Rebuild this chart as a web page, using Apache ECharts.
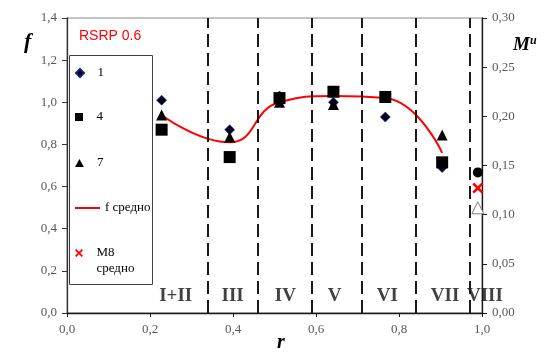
<!DOCTYPE html>
<html>
<head>
<meta charset="utf-8">
<script src="https://cdn.jsdelivr.net/npm/echarts@6/dist/echarts.min.js"></script>
<style>
  html, body { margin: 0; padding: 0; background: #ffffff; }
  #chart { width: 547px; height: 352px; }
</style>
</head>
<body>
<div id="chart"></div>
<script>
// Radial positions of the measuring points
const rPositions = [0.228, 0.392, 0.512, 0.642, 0.767, 0.904];
// f values for series 1, 4 and 7
const series1 = [1.01, 0.87, 1.03, 1.00, 0.93, 0.69];
const series4 = [0.87, 0.74, 1.02, 1.05, 1.025, 0.715];
const series7 = [0.94, 0.835, 1.00, 0.99, 1.03, 0.845];
// averaged f curve
const fMean = [0.94, 0.81, 1.00, 1.03, 1.02, 0.76];
// zone borders (dashed verticals) and zone captions
const zoneBounds = [0.337, 0.462, 0.591, 0.709, 0.844, 0.966];
const zoneNames = ['I+II', 'III', 'IV', 'V', 'VI', 'VII', 'VIII'];
const zoneLabelR = [0.262, 0.399, 0.526, 0.645, 0.772, 0.911, 1.007];
const zoneLabelF = 0.08;
// values on the right-hand M^u axis
const mR = 0.99;
const mCircle = [0.143];
const m8Mean = [0.127];
const mTriangle = [0.107];
// axis ranges
const fAxis = { min: 0, max: 1.4, step: 0.2 };
const mAxis = { min: 0, max: 0.30, step: 0.05 };
const rAxis = { min: 0, max: 1.0, step: 0.2 };

const SERIF = '"Liberation Serif", "DejaVu Serif", serif';
const comma = (v, d) => v.toFixed(d).replace('.', ',');

const ICON_DIAMOND = 'path://M5,0L10,5L5,10L0,5Z';
const ICON_SQUARE = 'path://M0,0H10V10H0Z';
const ICON_TRIANGLE = 'path://M5,0L10,9L0,9Z';
const ICON_LINE = 'path://M0,0H25V2H0Z';
const ICON_CROSS = 'path://M0,1.6L1.6,0L5,3.4L8.4,0L10,1.6L6.6,5L10,8.4L8.4,10L5,6.6L1.6,10L0,8.4L3.4,5Z';

const pairs = (xs, ys) => xs.map((x, i) => [x, ys[i]]);

const legendItems = [
  { name: '1', icon: ICON_DIAMOND, y: 73 },
  { name: '4', icon: ICON_SQUARE, y: 117 },
  { name: '7', icon: ICON_TRIANGLE, y: 163 },
  { name: 'f средно', icon: ICON_LINE, y: 208 },
  { name: 'M8 средно', icon: ICON_CROSS, y: 253 }
];

// one small legend per entry so each row sits at its own height
const legends = legendItems.map(item => {
  const twoLines = item.name === 'M8 средно';
  return {
    data: [item.name],
    icon: item.icon,
    left: 75,
    top: twoLines ? item.y - 24 : item.y - 8,
    orient: 'vertical',
    padding: 0,
    itemWidth: 25,
    itemHeight: 8,
    z: 5,
    selectedMode: false,
    formatter: n => (twoLines ? '\n' + n.replace(' ', '\n') : n),
    textStyle: { fontFamily: SERIF, fontSize: 13, color: '#000', lineHeight: 16 }
  };
});

const scatterBase = { type: 'scatter', emphasis: { disabled: true } };

const chart = echarts.init(document.getElementById('chart'), null, { renderer: 'canvas' });

chart.setOption({
  animation: false,
  backgroundColor: '#ffffff',
  grid: {
    left: 67, right: 65, top: 18, bottom: 39,
    show: true, borderColor: '#8a8a8a', borderWidth: 1, backgroundColor: 'transparent'
  },
  legend: legends,
  xAxis: {
    type: 'value',
    min: rAxis.min, max: rAxis.max, interval: rAxis.step,
    axisLine: { show: true, onZero: false, lineStyle: { color: '#1a1a1a', width: 1.3 } },
    axisTick: { show: true, inside: false, length: 4, lineStyle: { color: '#1a1a1a' } },
    axisLabel: { formatter: v => comma(v, 1), fontFamily: SERIF, fontSize: 13, color: '#595959', margin: 10 },
    splitLine: { show: false }
  },
  yAxis: [
    {
      type: 'value',
      min: fAxis.min, max: fAxis.max, interval: fAxis.step,
      axisLine: { show: true, lineStyle: { color: '#333', width: 1.3 } },
      axisTick: { show: true, inside: false, length: 5, lineStyle: { color: '#333' } },
      axisLabel: { formatter: v => comma(v, 1), fontFamily: SERIF, fontSize: 13, color: '#595959', margin: 10 },
      splitLine: { show: false }
    },
    {
      type: 'value', position: 'right',
      min: mAxis.min, max: mAxis.max, interval: mAxis.step,
      axisLine: { show: true, lineStyle: { color: '#1a1a1a', width: 1.3 } },
      axisTick: { show: true, inside: false, length: 5, lineStyle: { color: '#1a1a1a' } },
      axisLabel: { formatter: v => comma(v, 2), fontFamily: SERIF, fontSize: 13, color: '#595959', margin: 10 },
      splitLine: { show: false }
    }
  ],
  series: [
    Object.assign({}, scatterBase, {
      name: 'zones',
      symbolSize: 0,
      clip: false,
      silent: true,
      data: zoneLabelR.map((r, i) => ({ value: [r, zoneLabelF], name: zoneNames[i] })),
      label: {
        show: true, position: 'inside', formatter: p => p.name,
        fontFamily: SERIF, fontWeight: 'bold', fontSize: 19, color: '#111'
      },
      markLine: {
        silent: true,
        symbol: ['none', 'none'],
        label: { show: false },
        lineStyle: { color: '#1a1a1a', width: 2, type: [13, 6] },
        data: zoneBounds.map(x => ({ xAxis: x }))
      },
      z: 1
    }),
    {
      name: 'f средно',
      type: 'line',
      smooth: 0.5,
      symbol: 'none',
      emphasis: { disabled: true },
      lineStyle: { color: '#ff0000', width: 2 },
      itemStyle: { color: '#ff0000' },
      data: pairs(rPositions, fMean),
      z: 2
    },
    Object.assign({}, scatterBase, {
      name: '1',
      symbol: 'diamond',
      symbolSize: 10,
      itemStyle: { color: '#020226', borderColor: '#1c2466', borderWidth: 0.6, opacity: 1 },
      data: pairs(rPositions, series1),
      z: 3
    }),
    Object.assign({}, scatterBase, {
      name: '4',
      symbol: 'rect',
      symbolSize: 12,
      itemStyle: { color: '#000000', opacity: 1 },
      data: pairs(rPositions, series4),
      z: 4
    }),
    Object.assign({}, scatterBase, {
      name: '7',
      symbol: 'triangle',
      symbolSize: 11,
      itemStyle: { color: '#000000', opacity: 1 },
      data: pairs(rPositions, series7),
      z: 5
    }),
    Object.assign({}, scatterBase, {
      name: 'M circle',
      yAxisIndex: 1,
      symbol: 'circle',
      symbolSize: 10,
      itemStyle: { color: '#000000', opacity: 1 },
      data: mCircle.map(v => [mR, v]),
      z: 5
    }),
    Object.assign({}, scatterBase, {
      name: 'M triangle',
      yAxisIndex: 1,
      symbol: 'triangle',
      symbolSize: 12,
      itemStyle: { color: '#ffffff', borderColor: '#7f7f7f', borderWidth: 1, opacity: 1 },
      data: mTriangle.map(v => [mR, v]),
      z: 5
    }),
    Object.assign({}, scatterBase, {
      name: 'M8 средно',
      yAxisIndex: 1,
      symbol: ICON_CROSS,
      symbolSize: 11,
      itemStyle: { color: '#ff0000', opacity: 1 },
      data: m8Mean.map(v => [mR, v]),
      z: 6
    })
  ],
  graphic: [
    {
      type: 'rect', z: 1, silent: true,
      shape: { x: 69.5, y: 55.5, width: 83, height: 229 },
      style: { fill: 'transparent', stroke: '#404040', lineWidth: 1 }
    },
    {
      type: 'text', left: 79, top: 29, z: 10,
      style: { text: 'RSRP 0.6', fill: '#ff0000', font: '14px "Liberation Sans", Arial, sans-serif' }
    },
    {
      type: 'text', left: 24, top: 31, z: 10,
      style: { text: 'f', fill: '#000', font: 'italic bold 22px ' + SERIF }
    },
    {
      type: 'text', left: 277, top: 333, z: 10,
      style: { text: 'r', fill: '#000', font: 'italic bold 20px ' + SERIF }
    },
    {
      type: 'text', left: 513, top: 35, z: 10,
      style: {
        text: '{m|M}{u|u}',
        rich: {
          m: { font: 'italic bold 19px ' + SERIF, fill: '#000' },
          u: { font: 'italic bold 12px ' + SERIF, fill: '#000', verticalAlign: 'top', padding: [0, 0, 8, 0] }
        }
      }
    }
  ]
});
</script>
</body>
</html>
